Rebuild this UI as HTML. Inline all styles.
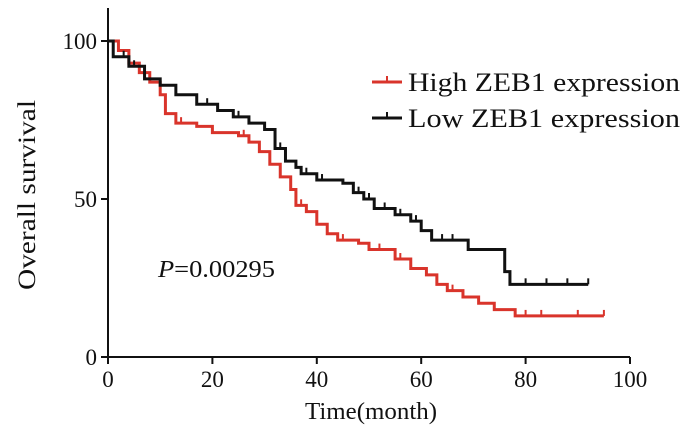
<!DOCTYPE html>
<html><head><meta charset="utf-8"><style>
body{margin:0;background:#fff}
svg text{font-family:"Liberation Serif",serif;fill:#111}
</style></head><body>
<svg width="700" height="437" viewBox="0 0 700 437">
<g id="axes"></g>
<g id="curves"></g>
<text x="158" y="277" font-size="24" textLength="117" lengthAdjust="spacingAndGlyphs"><tspan font-style="italic">P</tspan>=0.00295</text>
<text x="305" y="419" font-size="24" textLength="132" lengthAdjust="spacingAndGlyphs">Time(month)</text>
<text transform="translate(35,290) rotate(-90)" font-size="25" textLength="190" lengthAdjust="spacingAndGlyphs">Overall survival</text>
<g>
<g>
<line x1="372" y1="82" x2="402" y2="82" stroke="#d9342b" stroke-width="3"/>
<line x1="387" y1="76" x2="387" y2="82" stroke="#d9342b" stroke-width="2"/>
<text x="408" y="91" font-size="26" textLength="272" lengthAdjust="spacingAndGlyphs">High ZEB1 expression</text></g>
<g>
<line x1="372" y1="118" x2="402" y2="118" stroke="#111" stroke-width="3"/>
<line x1="387" y1="112" x2="387" y2="118" stroke="#111" stroke-width="2"/>
<text x="408" y="127" font-size="26" textLength="272" lengthAdjust="spacingAndGlyphs">Low ZEB1 expression</text></g>
</g>
</svg>
<script>
const xTicks=[0,20,40,60,80,100];
const yTicks=[0,50,100];
const highT=[0,2,4,6,8,10,11,13,17,20,25,27,29,31,33,35,36,38,40,42,44,48,50,53,55,58,61,63,65,68,71,74,78,95];
const highS=[100,97,93,90,87,83,77,74,73,71,70,68,65,61,57,53,48,46,42,39,37,36,34,34,31,28,26,23,21,19,17,15,13,13];
const highCens=[14,26,37,45,52,56,66,80,83,90,95];
const lowT=[0,1,4,7,10,13,17,21,24,27,30,32,34,36,37,40,45,47,49,51,55,58,60,62,67,69,75,76,77,92];
const lowS=[100,95,92,88,86,83,80,78,76,74,72,66,62,60,58,56,55,52,50,47,45,43,40,37,37,34,34,27,23,23];
const lowCens=[3,5,19,25,33,38,41,48,50,53,56,59,64,66,80,84,88,92];
const X=t=>108+t*5.22, Y=s=>357-s*3.16;
const NS='http://www.w3.org/2000/svg';
function mk(tag,attrs,parent){const e=document.createElementNS(NS,tag);for(const k in attrs)e.setAttribute(k,attrs[k]);parent.appendChild(e);return e;}
const ax=document.getElementById('axes');
const xa=mk('line',{x1:X(0),y1:Y(0),x2:X(100),y2:Y(0),stroke:'#111','stroke-width':2},ax);


const ya=mk('line',{x1:X(0),y1:Y(0),x2:X(0),y2:Y(100)-33,stroke:'#111','stroke-width':2},ax);


xTicks.forEach(v=>{mk('line',{x1:X(v),y1:Y(0),x2:X(v),y2:Y(0)+7,stroke:'#111','stroke-width':2},ax);
const t=mk('text',{x:X(v),y:Y(0)+30,'font-size':23,'text-anchor':'middle'},ax);t.textContent=v;

});
yTicks.forEach(v=>{mk('line',{x1:X(0)-7,y1:Y(v),x2:X(0),y2:Y(v),stroke:'#111','stroke-width':2},ax);
const t=mk('text',{x:X(0)-11,y:Y(v)+8,'font-size':23,'text-anchor':'end'},ax);t.textContent=v;

});
function valAt(T,S,t){let s=S[0];for(let i=0;i<T.length;i++){if(T[i]<=t)s=S[i];}return s;}
function curve(T,S,C,color,name){
 const g=document.getElementById('curves');
 let d='M'+X(T[0])+','+Y(S[0]);
 for(let i=1;i<T.length;i++){d+=' H'+X(T[i])+' V'+Y(S[i]);}
 const p=mk('path',{d:d,fill:'none',stroke:color,'stroke-width':3},g);
 
 
 C.forEach(t=>{const s=valAt(T,S,t);const l=mk('line',{x1:X(t),y1:Y(s),x2:X(t),y2:Y(s)-6,stroke:color,'stroke-width':2},g);
 
 });
}
curve(highT,highS,highCens,'#d9342b','high-zeb1-curve');
curve(lowT,lowS,lowCens,'#111','low-zeb1-curve');
</script>
</body></html>
